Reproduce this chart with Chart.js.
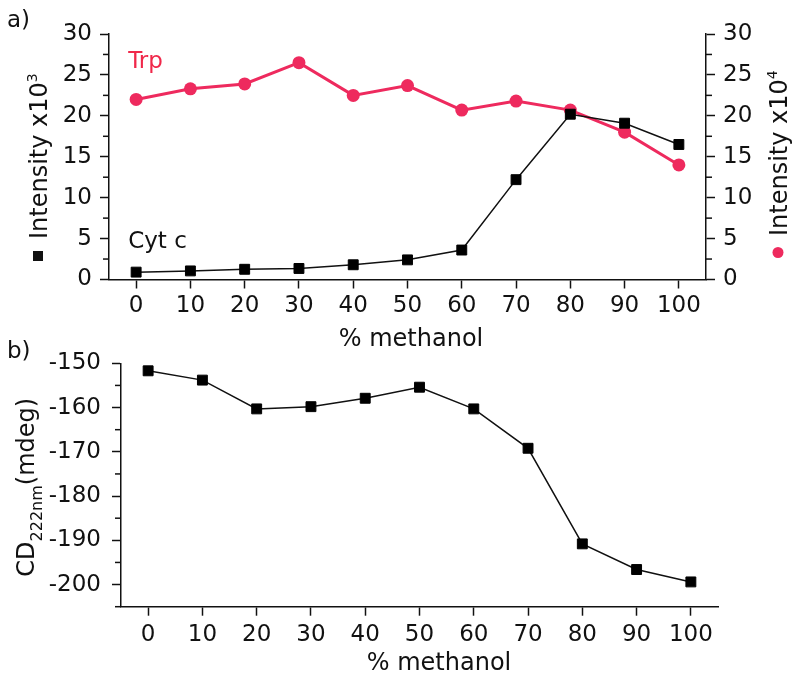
<!DOCTYPE html>
<html>
<head>
<meta charset="utf-8">
<script src="https://cdn.jsdelivr.net/npm/chart.js@4.4.0/dist/chart.umd.min.js"></script>
<style>
  html, body { margin: 0; padding: 0; background: #fff; }
  body { width: 799px; height: 685px; position: relative; overflow: hidden; }
  canvas { position: absolute; left: 0; }
  #top { top: 0; }
  #bottom { top: 336px; }
</style>
</head>
<body>
<canvas id="top" width="799" height="352"></canvas>
<canvas id="bottom" width="799" height="349"></canvas>
<script>
// % methanol on both panels
var methanol = [0, 10, 20, 30, 40, 50, 60, 70, 80, 90, 100];
// panel a: Cyt c intensity (x10^3, left axis) and Trp intensity (x10^4, right axis)
var cytC = [0.9, 1.05, 1.25, 1.35, 1.8, 2.4, 3.6, 12.2, 20.2, 19.1, 16.5];
var trp = [22.0, 23.3, 23.9, 26.5, 22.5, 23.7, 20.7, 21.8, 20.7, 18.0, 14.0];
// panel b: CD at 222 nm (mdeg)
var cd222 = [-151.7, -153.8, -160.3, -159.8, -157.9, -155.4, -160.3, -169.2, -190.8, -196.6, -199.4];

var xTicks = [0, 10, 20, 30, 40, 50, 60, 70, 80, 90, 100];
var intensityTicks = [0, 5, 10, 15, 20, 25, 30];
var cdTicks = [-200, -190, -180, -170, -160, -150];

var ink = '#111';
var pink = '#ee2a5e';
var fontFamily = '"DejaVu Sans", sans-serif';

var toPoints = function(values) {
    return methanol.map(function(m, i) { return {x: m, y: values[i]}; });
};

var drawRuns = function(ctx, x0, y0, angle, runs) {
    ctx.save();
    ctx.translate(x0, y0);
    ctx.rotate(angle);
    ctx.textAlign = 'left';
    ctx.textBaseline = 'alphabetic';
    var pos = 0;
    runs.forEach(function(r) {
        ctx.fillStyle = r.color || ink;
        if (r.square) {
            ctx.fillRect(pos, r.dy - r.square / 2, r.square, r.square);
            pos += r.square + (r.gap || 0);
            return;
        }
        if (r.dot) {
            ctx.beginPath();
            ctx.arc(pos + r.dot, r.dy, r.dot, 0, 2 * Math.PI);
            ctx.fill();
            pos += 2 * r.dot + (r.gap || 0);
            return;
        }
        ctx.font = r.size + 'px ' + fontFamily;
        ctx.fillText(r.t, pos, r.dy || 0);
        pos += ctx.measureText(r.t).width + (r.gap || 0);
    });
    ctx.restore();
};

// minor ticks are shorter than the major ones, chart.js only has one length
var drawMinorTicks = function(chart, len) {
    var ctx = chart.ctx;
    ctx.save();
    ctx.strokeStyle = ink;
    ctx.lineWidth = 1.5;
    Object.keys(chart.scales).forEach(function(id) {
        var s = chart.scales[id];
        if (!s.options.majors) return;
        s.ticks.forEach(function(t) {
            if (s.options.majors.indexOf(t.value) >= 0) return;
            var y = s.getPixelForValue(t.value);
            var x = s.position === 'left' ? s.right : s.left;
            var dir = s.position === 'left' ? -1 : 1;
            ctx.beginPath();
            ctx.moveTo(x, y);
            ctx.lineTo(x + dir * len, y);
            ctx.stroke();
        });
    });
    ctx.restore();
};

var axisBorder = { display: true, color: ink, width: 1.5 };
var tickFont = { family: fontFamily, size: 23 };

var xAxis = function(pad, height) {
    return {
        type: 'linear', min: -5, max: 105,
        afterBuildTicks: function(axis) {
            axis.ticks = xTicks.map(function(v) { return {value: v}; });
        },
        afterFit: function(scale) { scale.height = height; },
        ticks: { font: tickFont, color: ink, padding: pad, maxRotation: 0, autoSkip: false },
        grid: { display: true, drawOnChartArea: false, drawTicks: true, tickLength: 9, tickColor: ink, tickWidth: 1.5 },
        border: axisBorder
    };
};

var yAxis = function(pos, min, max, step, majors, pad, width) {
    return {
        type: 'linear', position: pos, min: min, max: max,
        majors: majors,
        afterFit: function(scale) { scale.width = width; },
        ticks: {
            stepSize: step, font: tickFont, color: ink, padding: pad, autoSkip: false,
            callback: function(value) { return majors.indexOf(value) >= 0 ? value : ''; }
        },
        grid: {
            display: true, drawOnChartArea: false, drawTicks: true, tickLength: 9, tickWidth: 1.5,
            tickColor: function(c) {
                return c.tick && majors.indexOf(c.tick.value) >= 0 ? ink : 'rgba(0,0,0,0)';
            }
        },
        border: axisBorder
    };
};

// ---- panel a ----
var topTexts = {
    id: 'topTexts',
    afterDraw: function(chart) {
        var ctx = chart.ctx, a = chart.chartArea;
        var xs = chart.scales.x, yl = chart.scales.yL;
        drawMinorTicks(chart, 6);
        ctx.save();
        ctx.font = '23px ' + fontFamily;
        ctx.fillStyle = ink;
        ctx.textAlign = 'left';
        ctx.textBaseline = 'alphabetic';
        ctx.fillText('a)', 7, 27);
        ctx.fillStyle = '#f0284a';
        ctx.fillText('Trp', xs.getPixelForValue(0) - 8, yl.getPixelForValue(25.9));
        ctx.fillStyle = ink;
        ctx.fillText('Cyt c', xs.getPixelForValue(0) - 8, yl.getPixelForValue(3.8));
        ctx.font = '24px ' + fontFamily;
        ctx.textAlign = 'center';
        ctx.fillText('% methanol', (a.left + a.right) / 2 + 3.5, 346);
        ctx.restore();

        drawRuns(ctx, a.left - 62, a.bottom - 18.5, -Math.PI / 2, [
            {square: 10, dy: -9, gap: 12},
            {t: 'Intensity x10', size: 24},
            {t: '3', size: 14, dy: -10}
        ]);
        drawRuns(ctx, a.right + 81, a.bottom - 21.5, -Math.PI / 2, [
            {dot: 5.5, dy: -9, gap: 11, color: pink},
            {t: 'Intensity x10', size: 24},
            {t: '4', size: 14, dy: -10}
        ]);
    }
};

new Chart(document.getElementById('top').getContext('2d'), {
    type: 'line',
    data: {
        datasets: [{
            label: 'Cyt c',
            data: toPoints(cytC),
            yAxisID: 'yL',
            borderColor: ink,
            backgroundColor: ink,
            borderWidth: 1.5,
            pointStyle: 'rect',
            pointRadius: 7,
            pointBorderWidth: 1,
            pointBackgroundColor: '#000',
            pointBorderColor: '#000',
            tension: 0
        }, {
            label: 'Trp',
            data: toPoints(trp),
            yAxisID: 'yR',
            borderColor: pink,
            backgroundColor: pink,
            borderWidth: 3,
            pointStyle: 'circle',
            pointRadius: 6.5,
            pointBorderWidth: 0,
            pointBackgroundColor: pink,
            tension: 0
        }]
    },
    options: {
        responsive: false,
        animation: false,
        devicePixelRatio: 1,
        layout: { padding: { top: 34, left: 0, right: 0, bottom: 0 } },
        plugins: { legend: { display: false }, tooltip: { enabled: false } },
        scales: {
            x: xAxis(4, 72.5),
            yL: yAxis('left', 0, 30, 2.5, intensityTicks, 8, 109),
            yR: yAxis('right', 0, 30, 2.5, intensityTicks, 8, 93)
        }
    },
    plugins: [topTexts]
});

// ---- panel b ----
var bottomTexts = {
    id: 'bottomTexts',
    afterDraw: function(chart) {
        var ctx = chart.ctx, a = chart.chartArea;
        drawMinorTicks(chart, 6);
        ctx.save();
        ctx.font = '23px ' + fontFamily;
        ctx.fillStyle = ink;
        ctx.textAlign = 'left';
        ctx.textBaseline = 'alphabetic';
        ctx.fillText('b)', 7, 22);
        ctx.font = '24px ' + fontFamily;
        ctx.textAlign = 'center';
        ctx.fillText('% methanol', (a.left + a.right) / 2 + 19.5, 334);
        ctx.restore();

        drawRuns(ctx, a.left - 87, a.bottom - 30, -Math.PI / 2, [
            {t: 'CD', size: 24},
            {t: '222nm', size: 16, dy: 8},
            {t: '(mdeg)', size: 24}
        ]);
    }
};

new Chart(document.getElementById('bottom').getContext('2d'), {
    type: 'line',
    data: {
        datasets: [{
            label: 'CD222nm',
            data: toPoints(cd222),
            borderColor: ink,
            backgroundColor: ink,
            borderWidth: 1.5,
            pointStyle: 'rect',
            pointRadius: 7,
            pointBorderWidth: 1,
            pointBackgroundColor: '#000',
            pointBorderColor: '#000',
            tension: 0
        }]
    },
    options: {
        responsive: false,
        animation: false,
        devicePixelRatio: 1,
        layout: { padding: { top: 27.3, left: 0, right: 81, bottom: 0 } },
        plugins: { legend: { display: false }, tooltip: { enabled: false } },
        scales: {
            x: xAxis(6, 78.3),
            y: yAxis('left', -205, -150, 5, cdTicks, 11, 121)
        }
    },
    plugins: [bottomTexts]
});
</script>
</body>
</html>
